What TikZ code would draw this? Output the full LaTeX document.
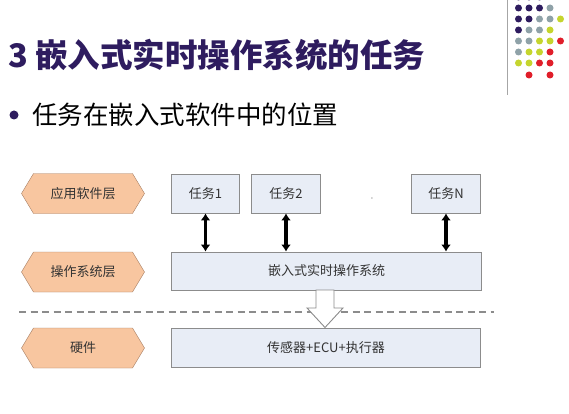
\documentclass[tikz,border=0pt]{standalone}
\usepackage{fontspec}
\usepackage{tikz}
\usetikzlibrary{shapes.symbols,arrows.meta}
\newfontfamily\cjk{Noto Sans CJK SC}

\definecolor{titlepurple}{HTML}{2E1C5F}
\definecolor{layerfill}{HTML}{F8C6A0}
\definecolor{layerline}{HTML}{A57C60}
\definecolor{boxfill}{HTML}{E8EDF6}
\definecolor{boxline}{HTML}{8C8C8C}
\definecolor{dotP}{HTML}{2E1C5F}
\definecolor{dotG}{HTML}{8FA2A8}
\definecolor{dotY}{HTML}{C5D52E}
\definecolor{dotR}{HTML}{E01E2A}

\begin{document}
\begin{tikzpicture}[x=1pt,y=-1pt,
    layer/.style={signal, signal to=west and east, signal pointer angle=118,
      draw=layerline, fill=layerfill, minimum width=123pt, minimum height=40pt,
      inner sep=0pt, text=black!80, font=\cjk\fontsize{13}{15}\selectfont},
    blk/.style={draw=boxline, fill=boxfill, line width=0.9pt, inner sep=0pt,
      minimum height=39pt, text=black!80, font=\cjk\fontsize{13}{15}\selectfont},
    link/.style={{Latex[length=7pt,width=10pt]}-{Latex[length=7pt,width=10pt]}, line width=3.6pt},
    pt/.style={circle, inner sep=0pt, minimum size=7pt}]
			\useasboundingbox (0,0) rectangle (569,414);
			\fill[white] (0,0) rectangle (569,414);

			% title and bullet
			\node (title) at (8,55) [anchor=west, inner sep=0pt, text=titlepurple,
			  font=\cjk\bfseries\fontsize{32.5}{35}\selectfont] {3 嵌入式实时操作系统的任务};
			\node (bul) at (14,115) [circle, fill=titlepurple, inner sep=0pt, minimum size=9pt] {};
			\node (sub) at (32,115) [anchor=west, inner sep=0pt,
			  font=\cjk\fontsize{25.5}{28}\selectfont] {任务在嵌入式软件中的位置};

			% corner decoration
			\coordinate (ltop) at (507,0);
			\coordinate (lbot) at (507,95);
			\draw[gray!70, line width=1pt] (ltop) -- (lbot);
			\foreach \c/\x in {P/1,P/2,P/3}
			  \node[pt, fill=dot\c] at (508+10.5*\x,-3) {};
			\foreach \c/\x in {P/1,P/2,P/3,G/4}
			  \node[pt, fill=dot\c] at (508+10.5*\x,8) {};
			\foreach \c/\x in {P/1,P/2,G/3,G/4,Y/5}
			  \node[pt, fill=dot\c] at (508+10.5*\x,19) {};
			\foreach \c/\x in {P/1,G/2,G/3,Y/4}
			  \node[pt, fill=dot\c] at (508+10.5*\x,30) {};
			\foreach \c/\x in {G/1,G/2,Y/3,Y/4,R/5}
			  \node[pt, fill=dot\c] at (508+10.5*\x,41) {};
			\foreach \c/\x in {G/1,Y/2,Y/3,R/4}
			  \node[pt, fill=dot\c] at (508+10.5*\x,52) {};
			\foreach \c/\x in {Y/1,Y/2,R/3,R/4}
			  \node[pt, fill=dot\c] at (508+10.5*\x,63) {};
			\foreach \c/\x in {R/2,R/4}
			  \node[pt, fill=dot\c] at (508+10.5*\x,75) {};

			% layers
			\node (app) at (83,193.5) [layer] {应用软件层};
			\node (osl) at (83,272) [layer] {操作系统层};
			\node (hwl) at (83,348) [layer] {硬件};

			\node (t1) at (205.5,193.5) [blk, minimum width=68pt] {任务1};
			\node (t2) at (286,193.5) [blk, minimum width=69pt] {任务2};
			\node (dots) at (372,199) [text=gray, font=\fontsize{13}{15}\selectfont] {$\cdot$};
			\node (tn) at (446,193.5) [blk, minimum width=69pt] {任务N};
			\node (os) at (326.5,271) [blk, minimum width=310pt, minimum height=38pt] {嵌入式实时操作系统};
			\node (hw) at (326,347.5) [blk, minimum width=309pt] {传感器+ECU+执行器};

			\draw[link] (t1.south) -- (t1.south |- os.north);
			\draw[link] (t2.south) -- (t2.south |- os.north);
			\draw[link] (tn.south) -- (tn.south |- os.north);

			% boundary software / hardware
			\coordinate (dl) at (19,312);
			\coordinate (dr) at (494,312);
			\draw[boxline, line width=1.1pt, dash pattern=on 7pt off 4.5pt] (dl) -- (dr);

			% hollow arrow
			\draw[boxline, fill=white, line width=0.9pt]
			  (316,290) -- (334,290) -- (334,308) -- (343,308) -- (325,327.5)
			  -- (307,308) -- (316,308) -- cycle;
		\end{tikzpicture}
\end{document}
